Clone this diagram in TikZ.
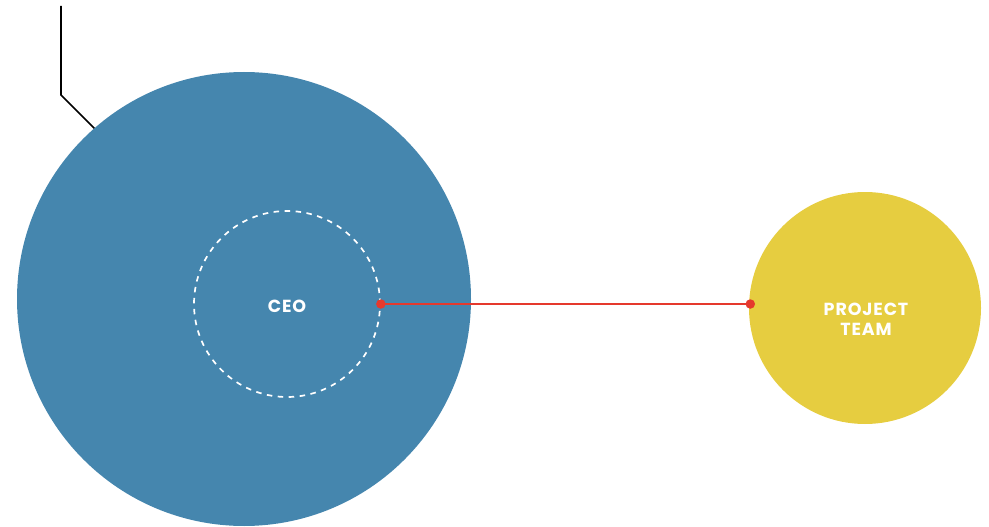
\documentclass[tikz,border=0pt]{standalone}
\usepackage{fontspec}
\setmainfont{Poppins}
\definecolor{orgblue}{RGB}{69,134,174}
\definecolor{teamyellow}{RGB}{230,205,64}
\definecolor{linkred}{RGB}{229,57,45}
\tikzset{
  bigcircle/.style={circle,fill=orgblue,draw=none,minimum size=454pt,inner sep=0pt},
  dashcircle/.style={circle,draw=white,line width=1.7pt,dash pattern=on 5.5pt off 5.5pt,minimum size=186pt,inner sep=0pt},
  teamcircle/.style={circle,fill=teamyellow,draw=none,minimum size=232pt,inner sep=0pt},
  lbl/.style={text=white,align=center,inner sep=0pt,
     font=\fontsize{17.5}{20}\selectfont\bfseries\addfontfeature{LetterSpace=5}},
  leader/.style={black,line width=1.6pt},
  link/.style={linkred,line width=2pt},
  dot/.style={circle,fill=linkred,inner sep=0pt,minimum size=9.5pt}
}
\begin{document}
\begin{tikzpicture}[x=1pt,y=-1pt]
\useasboundingbox (0,0) rectangle (989,527);
\coordinate (top) at (61,6);
\coordinate (bend) at (61,95);
\coordinate (tip) at (100,134);
\draw[leader] (top) -- (bend) -- (tip);
\node[bigcircle] (org) at (244,299) {};
\node[dashcircle] (ceo) at (287,304) {};
\node[lbl] (ceolabel) at (287,306) {CEO};
\node[teamcircle] (team) at (865,308) {};
\node[lbl] (teamlabel) at (866,319) {PROJECT\\TEAM};
\coordinate (tw) at ([xshift=1.5pt]ceo.east -| team.west);
\draw[link] (ceo.east) -- (tw);
\node[dot] (d1) at (ceo.east) {};
\node[dot] (d2) at (tw) {};
\end{tikzpicture}
\end{document}
